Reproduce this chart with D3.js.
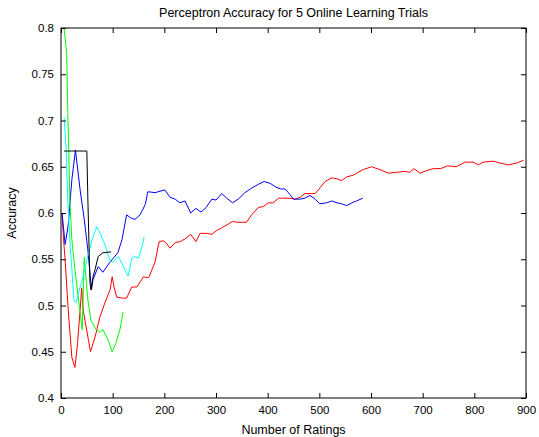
<!DOCTYPE html>
<html><head><meta charset="utf-8">
<script src="https://cdn.jsdelivr.net/npm/d3@7"></script>
<style>body{margin:0;background:#fff} text{font-family:"Liberation Sans",Arial,sans-serif}</style>
</head><body><svg id="c" width="539" height="437"></svg>
<script>
const xTicks = [0,100,200,300,400,500,600,700,800,900];
const yTicks = [0.4,0.45,0.5,0.55,0.6,0.65,0.7,0.75,0.8];
const yTickLabels = ["0.4","0.45","0.5","0.55","0.6","0.65","0.7","0.75","0.8"];
const seriesColors = ["#ff0000","#0000ff","#00ff00","#00ffff","#000000"];

const trial1X = [2,5,8,14,21,27,32,37,40,43,53,57,66,75,85,95,99,103,108,119,127,137,147,156,159,169,172,182,190,198,203,211,221,230,240,251,261,269,282,292,301,311,321,332,340,350,359,369,382,392,401,411,421,430,443,453,463,472,482,492,501,511,524,534,543,553,566,572,585,601,617,634,650,666,675,683,695,708,721,735,748,765,782,798,808,817,837,850,866,882,895];
const trial1Y = [0.600,0.571,0.549,0.495,0.444,0.433,0.459,0.495,0.519,0.495,0.463,0.450,0.466,0.487,0.503,0.517,0.531,0.519,0.509,0.508,0.508,0.520,0.520,0.528,0.531,0.530,0.533,0.547,0.569,0.570,0.568,0.562,0.568,0.569,0.572,0.577,0.569,0.578,0.578,0.577,0.581,0.584,0.587,0.591,0.590,0.590,0.590,0.598,0.606,0.607,0.611,0.611,0.616,0.616,0.616,0.615,0.617,0.621,0.621,0.621,0.627,0.634,0.638,0.637,0.635,0.639,0.641,0.643,0.647,0.650,0.647,0.643,0.644,0.645,0.644,0.648,0.643,0.646,0.648,0.648,0.651,0.650,0.655,0.655,0.652,0.655,0.656,0.654,0.652,0.654,0.657];

const trial2X = [2,8,14,21,28,37,45,52,59,62,72,81,95,110,118,127,134,143,153,163,168,182,201,211,221,230,240,251,261,271,281,292,300,311,321,332,343,356,369,382,393,405,416,425,434,443,450,463,472,482,492,501,514,524,534,543,553,563,572,584];
const trial2Y = [0.600,0.566,0.587,0.636,0.668,0.625,0.593,0.560,0.517,0.528,0.542,0.536,0.547,0.557,0.571,0.598,0.595,0.593,0.598,0.609,0.623,0.622,0.625,0.617,0.615,0.611,0.613,0.600,0.605,0.601,0.606,0.615,0.614,0.621,0.616,0.611,0.615,0.622,0.627,0.631,0.634,0.632,0.628,0.626,0.626,0.620,0.615,0.615,0.616,0.619,0.615,0.610,0.611,0.613,0.611,0.610,0.608,0.611,0.613,0.616];

const trial3X = [6,11,13,15,17,21,27,34,41,45,52,58,68,75,81,91,99,106,114,120];
const trial3Y = [0.800,0.772,0.712,0.669,0.615,0.571,0.539,0.506,0.474,0.552,0.506,0.484,0.474,0.471,0.474,0.463,0.450,0.459,0.474,0.493];

const trial4X = [6,10,13,17,21,25,29,33,41,50,60,69,75,85,95,101,111,120,130,137,143,150,156,161];
const trial4Y = [0.703,0.669,0.615,0.571,0.539,0.506,0.503,0.511,0.528,0.549,0.571,0.585,0.579,0.566,0.548,0.547,0.553,0.543,0.532,0.551,0.553,0.551,0.562,0.574];

const trial5X = [6,20,35,50,52,56,58,62,66,72,81,97];
const trial5Y = [0.667,0.667,0.667,0.667,0.615,0.525,0.517,0.531,0.539,0.553,0.557,0.558];

const W = 539, H = 437;
const m = {left:61, right:13, top:28, bottom:39};
const svg = d3.select("#c");
const x = d3.scaleLinear().domain([0,900]).range([m.left, W-m.right]);
const y = d3.scaleLinear().domain([0.4,0.8]).range([H-m.bottom, m.top]);

const seriesX = [trial1X,trial2X,trial3X,trial4X,trial5X];
const seriesY = [trial1Y,trial2Y,trial3Y,trial4Y,trial5Y];
const line = d3.line().x(d=>x(d[0])).y(d=>y(d[1]));
const g = svg.append("g");
seriesX.forEach((xs,i)=>{
  const pts = xs.map((v,j)=>[v, seriesY[i][j]]);
  g.append("path").attr("d", line(pts)).attr("fill","none")
   .attr("stroke", seriesColors[i]).attr("stroke-width",1);
});

const tickLen = 5;
const fmt = (v)=> yTickLabels[yTicks.indexOf(v)];
svg.append("g").attr("transform",`translate(0,${H-m.bottom})`)
  .call(d3.axisBottom(x).tickValues(xTicks).tickSize(-tickLen).tickPadding(6).tickFormat(d3.format("d")))
  .call(a=>{a.select(".domain").remove(); a.selectAll("text").attr("font-size",11.5).attr("fill","#000").attr("dy","0.9em");});
svg.append("g").attr("transform",`translate(0,${m.top})`)
  .call(d3.axisTop(x).tickValues(xTicks).tickSize(-tickLen).tickFormat(""))
  .call(a=>a.select(".domain").remove());
svg.append("g").attr("transform",`translate(${m.left},0)`)
  .call(d3.axisLeft(y).tickValues(yTicks).tickSize(-tickLen).tickPadding(7).tickFormat(fmt))
  .call(a=>{a.select(".domain").remove(); a.selectAll("text").attr("font-size",11.5).attr("fill","#000");});
svg.append("g").attr("transform",`translate(${W-m.right},0)`)
  .call(d3.axisRight(y).tickValues(yTicks).tickSize(-tickLen).tickFormat(""))
  .call(a=>a.select(".domain").remove());
svg.append("rect").attr("x",m.left).attr("y",m.top).attr("width",W-m.left-m.right).attr("height",H-m.top-m.bottom)
  .attr("fill","none").attr("stroke","#000").attr("stroke-width",1);

svg.append("text").attr("x",(m.left+W-m.right)/2).attr("y",17).attr("text-anchor","middle")
  .attr("font-size",12.5).text("Perceptron Accuracy for 5 Online Learning Trials");
svg.append("text").attr("x",(m.left+W-m.right)/2).attr("y",434).attr("text-anchor","middle")
  .attr("font-size",12.5).text("Number of Ratings");
svg.append("text").attr("transform",`translate(16,${(m.top+H-m.bottom)/2}) rotate(-90)`).attr("text-anchor","middle")
  .attr("font-size",12.5).text("Accuracy");
</script></body></html>
